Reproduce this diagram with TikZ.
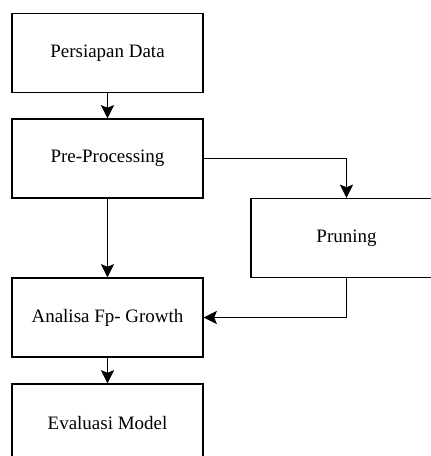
\documentclass[tikz,border=0pt]{standalone}
\usepackage{fontspec}
\setmainfont{Liberation Serif}
\newfontfamily\boxfont{Liberation Serif}
\usetikzlibrary{arrows.meta}

\begin{document}
\begin{tikzpicture}[x=0.02cm,y=-0.02cm,
  box/.style={draw,line width=0.8pt,minimum width=3.82cm,minimum height=1.58cm,
    font=\boxfont\fontsize{10.8}{13}\selectfont},
  arr/.style={line width=0.8pt,-{Stealth[length=7.5pt,width=7.5pt,inset=1.5pt]}}]
\clip (0,0) rectangle (431,456);
\node[box] (data) at (107.5,53) {Persiapan Data};
\node[box] (pre) at (107.5,158.5) {Pre-Processing};
\node[box] (prun) at (346.5,238) {Pruning};
\node[box] (fp) at (107.5,317.5) {Analisa Fp- Growth};
\node[box] (eval) at (107.5,423.5) {Evaluasi Model};
\draw[arr] (data) -- (pre);
\draw[arr] (pre) -- (fp);
\draw[arr] (pre.east) -| (prun.north);
\draw[arr] (prun.south) |- (fp.east);
\draw[arr] (fp) -- (eval);
\end{tikzpicture}
\end{document}
